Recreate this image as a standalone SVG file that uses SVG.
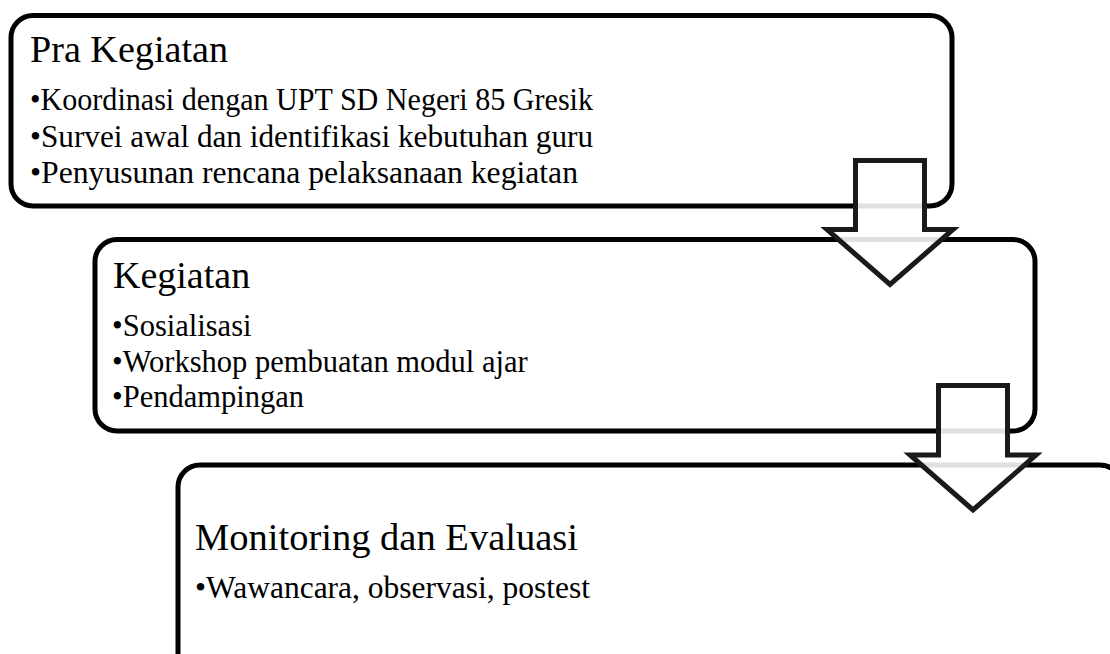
<svg xmlns="http://www.w3.org/2000/svg" width="1110" height="654" viewBox="0 0 1110 654">
<style>
.box{fill:#fff;stroke:#000;stroke-width:5}
.arrow{fill:#fff;fill-opacity:0.88;stroke:#1a1a1a;stroke-width:5;stroke-linejoin:miter;stroke-miterlimit:10}
.t{font-family:"Liberation Serif","Times New Roman",serif;font-size:38px;fill:#000}
.b{font-family:"Liberation Serif","Times New Roman",serif;font-size:30.5px;fill:#000}
</style>
<rect width="1110" height="654" fill="#fff"/>
<g id="node-pra">
<rect class="box" x="11" y="15.5" width="941" height="190.5" rx="22"/>
<text class="t" x="30" y="62" textLength="198" lengthAdjust="spacingAndGlyphs">Pra Kegiatan</text>
<text class="b" x="30" y="110" textLength="563" lengthAdjust="spacingAndGlyphs">•Koordinasi dengan UPT SD Negeri 85 Gresik</text>
<text class="b" x="30" y="147" textLength="563" lengthAdjust="spacingAndGlyphs">•Survei awal dan identifikasi kebutuhan guru</text>
<text class="b" x="30" y="183" textLength="548" lengthAdjust="spacingAndGlyphs">•Penyusunan rencana pelaksanaan kegiatan</text>
</g>
<g id="node-kegiatan">
<rect class="box" x="95" y="239.5" width="940" height="191.5" rx="22"/>
<text class="t" x="113" y="288">Kegiatan</text>
<text class="b" x="112" y="336">•Sosialisasi</text>
<text class="b" x="112" y="372">•Workshop pembuatan modul ajar</text>
<text class="b" x="112" y="407">•Pendampingan</text>
</g>
<g id="node-monev">
<rect class="box" x="178" y="465" width="944" height="240" rx="22"/>
<text class="t" x="195" y="550" textLength="383" lengthAdjust="spacingAndGlyphs">Monitoring dan Evaluasi</text>
<text class="b" x="195" y="598" textLength="395" lengthAdjust="spacingAndGlyphs">•Wawancara, observasi, postest</text>
</g>
<g id="connectors">
<path class="arrow" d="M855.5,160.5 H924.5 V229.5 H953 L890,284.5 L827,229.5 H855.5 Z"/>
<path class="arrow" d="M938.5,385.5 H1007.5 V455 H1036 L973,510 L910,455 H938.5 Z"/>
</g>
</svg>
